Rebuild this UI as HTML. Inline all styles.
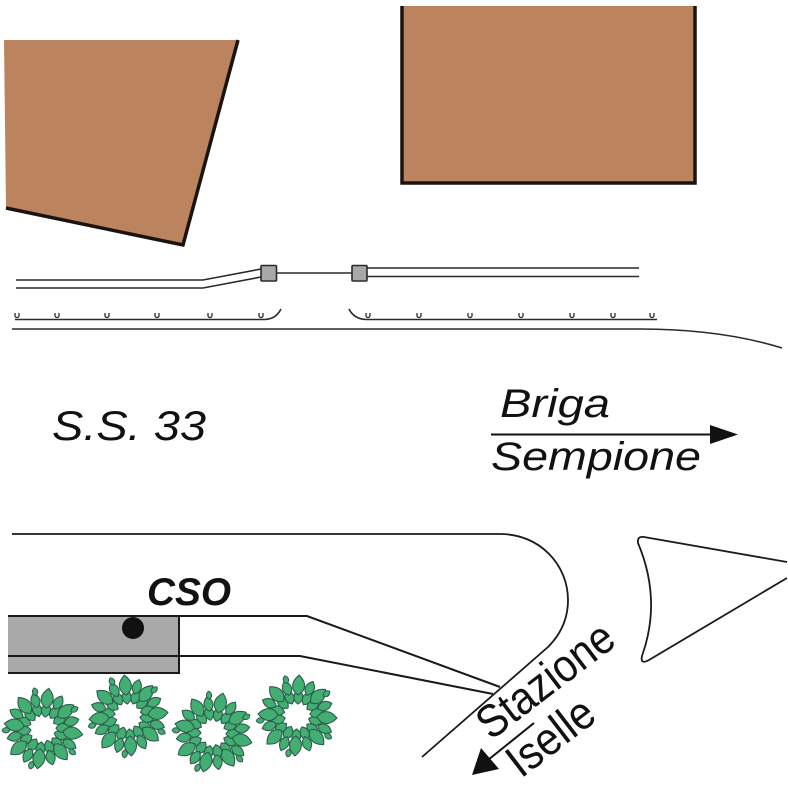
<!DOCTYPE html>
<html>
<head>
<meta charset="utf-8">
<style>
html,body{margin:0;padding:0;background:#fff;}
svg{display:block;}
text{font-family:"Liberation Sans",Arial,sans-serif;font-style:italic;fill:#111;}
</style>
</head>
<body>
<svg width="788" height="788" viewBox="0 0 788 788" xmlns="http://www.w3.org/2000/svg">
<defs>
  <path id="leafA" d="M0,0 C5,-8 13,-8 20,0 C13,8 5,8 0,0 Z" fill="#42AE72" stroke="#2E5C4C" stroke-width="1.1"/>
  <path id="leafD" d="M0,0 C4,-6 10,-6 15,0 C10,6 4,6 0,0 Z" fill="#42AE72" stroke="#2E5C4C" stroke-width="1.1"/>
  <path id="leafB" d="M0,0 C4,-6 10,-6 14,0 C10,6 4,6 0,0 Z" fill="#42AE72" stroke="#2E5C4C" stroke-width="1.1"/>
  <path id="leafC" d="M0,0 C2,-3.5 6,-3.5 8,0 C6,3.5 2,3.5 0,0 Z" fill="#42AE72" stroke="#2E5C4C" stroke-width="1"/>
  <g id="tree">
    <use href="#leafB" transform="rotate(11) translate(12,0)"/>
    <use href="#leafB" transform="rotate(37) translate(13,0)"/>
    <use href="#leafB" transform="rotate(63) translate(12,0)"/>
    <use href="#leafB" transform="rotate(89) translate(13,0)"/>
    <use href="#leafB" transform="rotate(115) translate(12,0)"/>
    <use href="#leafB" transform="rotate(141) translate(13,0)"/>
    <use href="#leafB" transform="rotate(167) translate(12,0)"/>
    <use href="#leafB" transform="rotate(193) translate(13,0)"/>
    <use href="#leafB" transform="rotate(219) translate(12,0)"/>
    <use href="#leafB" transform="rotate(245) translate(13,0)"/>
    <use href="#leafB" transform="rotate(271) translate(12,0)"/>
    <use href="#leafB" transform="rotate(297) translate(13,0)"/>
    <use href="#leafB" transform="rotate(323) translate(12,0)"/>
    <use href="#leafB" transform="rotate(349) translate(13,0)"/>
    <use href="#leafA" transform="rotate(0) translate(20,0)"/>
    <use href="#leafD" transform="rotate(22) translate(23,0)"/>
    <use href="#leafA" transform="rotate(44) translate(19,0)"/>
    <use href="#leafD" transform="rotate(67) translate(22,0)"/>
    <use href="#leafA" transform="rotate(90) translate(20,0)"/>
    <use href="#leafD" transform="rotate(112) translate(23,0)"/>
    <use href="#leafA" transform="rotate(134) translate(21,0)"/>
    <use href="#leafD" transform="rotate(157) translate(22,0)"/>
    <use href="#leafA" transform="rotate(180) translate(19,0)"/>
    <use href="#leafD" transform="rotate(202) translate(23,0)"/>
    <use href="#leafA" transform="rotate(224) translate(20,0)"/>
    <use href="#leafD" transform="rotate(247) translate(22,0)"/>
    <use href="#leafA" transform="rotate(270) translate(21,0)"/>
    <use href="#leafD" transform="rotate(292) translate(23,0)"/>
    <use href="#leafA" transform="rotate(314) translate(19,0)"/>
    <use href="#leafD" transform="rotate(337) translate(22,0)"/>
    <use href="#leafC" transform="rotate(30) translate(33,0)"/>
    <use href="#leafC" transform="rotate(100) translate(34,0)"/>
    <use href="#leafC" transform="rotate(170) translate(33,0)"/>
    <use href="#leafC" transform="rotate(250) translate(34,0)"/>
    <use href="#leafC" transform="rotate(320) translate(33,0)"/>
  </g>
</defs>

<!-- top-left building -->
<polygon points="4,40 238,40 183,245 6,208" fill="#BC835F"/>
<polyline points="238,40 183,245 6,208" fill="none" stroke="#1a1410" stroke-width="3.5"/>

<!-- top-right building -->
<rect x="401" y="6" width="295" height="177" fill="#BC835F"/>
<polyline points="402,6 402,183 695,183 695,6" fill="none" stroke="#1a1410" stroke-width="3.5"/>

<!-- tracks -->
<g fill="none" stroke="#2a2a2a" stroke-width="1.6">
  <polyline points="16,280 203,280 261,269"/>
  <polyline points="16,288 203,288 261,277"/>
  <line x1="277" y1="273" x2="352" y2="273"/>
  <line x1="367" y1="268" x2="639" y2="268"/>
  <line x1="367" y1="276.5" x2="639" y2="276.5"/>
</g>
<rect x="261" y="265.5" width="15.5" height="15.5" rx="1" fill="#A8A8A8" stroke="#2a2a2a" stroke-width="1.6"/>
<rect x="352" y="265.5" width="15" height="15.5" rx="1" fill="#A8A8A8" stroke="#2a2a2a" stroke-width="1.6"/>

<!-- platforms -->
<g fill="none" stroke="#2a2a2a" stroke-width="1.6">
  <path d="M15,319.5 L265,319.5 Q276,319 281,309"/>
  <path d="M349,309 Q354,319 366,319.5 L657,319.5"/>
  <path d="M12,329 L640,329 C690,329 740,335 782,348"/>
</g>
<g fill="none" stroke="#2a2a2a" stroke-width="1.3">
  <path d="M15,313 v2.5 a2,2 0 0 0 4,0 v-2.5"/>
  <path d="M55,313 v2.5 a2,2 0 0 0 4,0 v-2.5"/>
  <path d="M105,313 v2.5 a2,2 0 0 0 4,0 v-2.5"/>
  <path d="M155,313 v2.5 a2,2 0 0 0 4,0 v-2.5"/>
  <path d="M208,313 v2.5 a2,2 0 0 0 4,0 v-2.5"/>
  <path d="M259,313 v2.5 a2,2 0 0 0 4,0 v-2.5"/>
  <path d="M366,313 v2.5 a2,2 0 0 0 4,0 v-2.5"/>
  <path d="M417,313 v2.5 a2,2 0 0 0 4,0 v-2.5"/>
  <path d="M468,313 v2.5 a2,2 0 0 0 4,0 v-2.5"/>
  <path d="M519,313 v2.5 a2,2 0 0 0 4,0 v-2.5"/>
  <path d="M570,313 v2.5 a2,2 0 0 0 4,0 v-2.5"/>
  <path d="M611,313 v2.5 a2,2 0 0 0 4,0 v-2.5"/>
  <path d="M650,313 v2.5 a2,2 0 0 0 4,0 v-2.5"/>
</g>

<!-- labels middle -->
<text x="52" y="440" font-size="42" textLength="154" lengthAdjust="spacingAndGlyphs">S.S. 33</text>
<text x="500" y="417" font-size="40" textLength="110" lengthAdjust="spacingAndGlyphs">Briga</text>
<text x="491" y="470" font-size="40" textLength="210" lengthAdjust="spacingAndGlyphs">Sempione</text>
<line x1="491" y1="434.5" x2="714" y2="434.5" stroke="#111" stroke-width="2"/>
<polygon points="710,425 738,434.5 710,444" fill="#111"/>

<!-- bottom road -->
<path d="M12,534 L500,534 C540,534 568,565 568,600 C568,620 560,635 548,647 L422,757" fill="none" stroke="#1a1a1a" stroke-width="1.8"/>

<!-- CSO block -->
<rect x="8" y="616" width="171" height="57" fill="#A9A9A9"/>
<g fill="none" stroke="#1a1a1a" stroke-width="2">
  <polyline points="8,616 307,616 500,687"/>
  <polyline points="8,656 300,656 493,694"/>
  <polyline points="8,673 179,673 179,616"/>
</g>
<circle cx="133" cy="628" r="11" fill="#111"/>
<text x="147" y="605" font-size="39" font-weight="bold" textLength="84" lengthAdjust="spacingAndGlyphs">CSO</text>

<!-- trees -->
<use href="#tree" transform="translate(43,729) rotate(8)"/>
<use href="#tree" transform="translate(128,716) rotate(-5)"/>
<use href="#tree" transform="translate(213,733) rotate(14)"/>
<use href="#tree" transform="translate(297,716) rotate(3)"/>

<!-- right island -->
<path d="M787,562 L644,537 Q637,536 638,543 Q662,600 642,656 Q640,665 649,660 L787,578" fill="none" stroke="#1a1a1a" stroke-width="1.8"/>

<!-- Stazione Iselle -->
<text transform="translate(491,741) rotate(-37.3)" font-size="46" textLength="160" lengthAdjust="spacingAndGlyphs" style="font-style:normal">Stazione</text>
<text transform="translate(521,779) rotate(-37.5)" font-size="46" textLength="98" lengthAdjust="spacingAndGlyphs" style="font-style:normal">Iselle</text>
<line x1="534" y1="723" x2="488" y2="760" stroke="#111" stroke-width="2"/>
<polygon points="472,775 481,748 499,769" fill="#111"/>
</svg>
</body>
</html>
